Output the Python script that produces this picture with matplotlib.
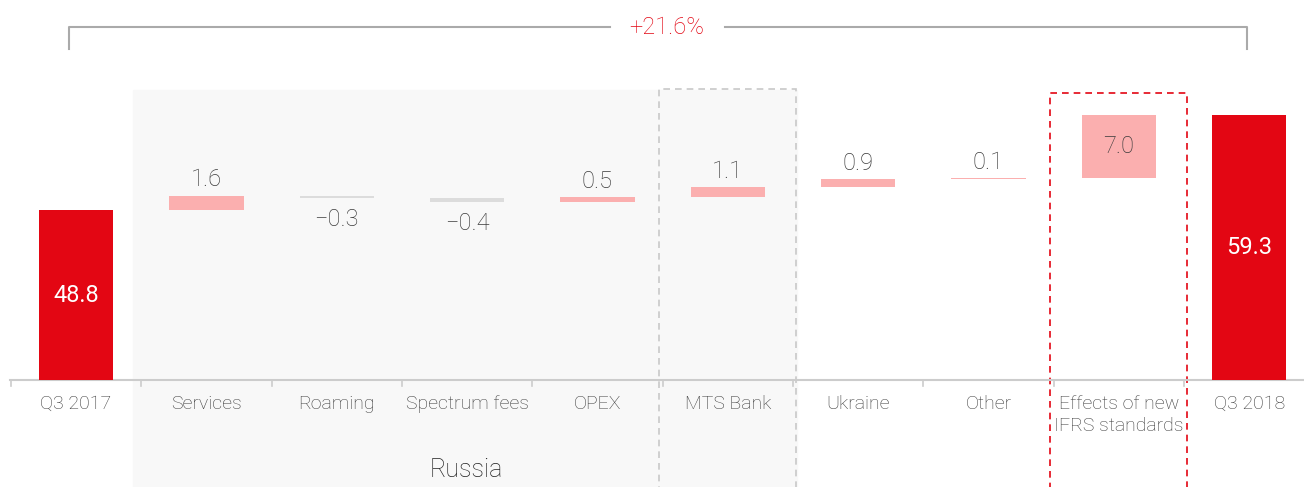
import matplotlib.pyplot as plt
from matplotlib.patches import Rectangle

cats = ['Q3 2017', 'Services', 'Roaming', 'Spectrum fees', 'OPEX', 'MTS Bank',
        'Ukraine', 'Other', 'Effects of new\nIFRS standards', 'Q3 2018']
start = 48.8
deltas = [1.6, -0.3, -0.4, 0.5, 1.1, 0.9, 0.1, 7.0]
end = 59.3
growth = '+21.6%'

RED = '#e30613'
PINK = '#fbafaf'
GREY = '#dcdcdc'
TXT = '#3a3a3a'

plt.rcParams['font.family'] = ['Roboto', 'DejaVu Sans']
plt.rcParams['font.weight'] = 'light'

fig = plt.figure(figsize=(13.04, 4.87), dpi=100)
ax = fig.add_axes([0, 0, 1, 1])
ax.set_xlim(-0.583, 9.42)
ax.set_ylim(18.2, 72.0)
ax.axis('off')
y0 = 30.0  # value axis baseline

# background groups
ax.add_patch(Rectangle((0.437, 0), 5.533 - 0.437, 62.05, color='#f8f8f8', zorder=0))
ax.add_patch(Rectangle((4.474, 0), 5.526 - 4.474, 62.2, fill=False, ec='#c8c8c8',
                       ls=(0, (4, 3)), lw=1.2, zorder=1))
ax.add_patch(Rectangle((7.475, 0), 8.526 - 7.475, 61.7, fill=False, ec=RED,
                       ls=(0, (4, 3)), lw=1.2, zorder=1))

w = 0.57
# totals
ax.bar(0, start - y0, bottom=y0, width=w, color=RED, zorder=3)
ax.bar(9, end - y0, bottom=y0, width=w, color=RED, zorder=3)
ax.text(0, (start + y0) / 2, f'{start:.1f}', color='white', ha='center', va='center',
        fontsize=17, weight='normal')
ax.text(9, (end + y0) / 2, f'{end:.1f}', color='white', ha='center', va='center',
        fontsize=17, weight='normal')

level = start
for i, d in enumerate(deltas, start=1):
    col = PINK if d > 0 else GREY
    ax.bar(i, d, bottom=level, width=w, color=col, zorder=3)
    top = max(level, level + d)
    bot = min(level, level + d)
    lab = f'{d:.1f}'.replace('-', '\u2212')
    if i == 8:
        ax.text(i, level + d / 2, lab, color=TXT, ha='center', va='center', fontsize=17)
    elif d > 0:
        ax.text(i, top + 0.45, lab, color=TXT, ha='center', va='bottom', fontsize=17)
    else:
        ax.text(i, bot - 1.1, lab, color=TXT, ha='center', va='top', fontsize=17)
    level += d

# axis line and ticks
ax.plot([-0.505, 9.42], [y0, y0], color='#cccccc', lw=1.5, zorder=2)
for i in range(10):
    ax.plot([i - 0.5, i - 0.5], [y0, y0 - 0.66], color='#cccccc', lw=1.2, zorder=2)
for i, c in enumerate(cats):
    ax.text(i, y0 - 1.65, c, color=TXT, ha='center', va='top', fontsize=14, linespacing=1.3)
ax.text(2.995, 20.1, 'Russia', color='#222222', ha='center', va='center', fontsize=18)

# growth bracket
by, bt = 69.0, 66.6
ax.plot([-0.054, -0.054, 4.10], [bt, by, by], color='#aaaaaa', lw=1.5)
ax.plot([4.98, 8.98, 8.98], [by, by, bt], color='#aaaaaa', lw=1.5)
ax.text(4.535, by, growth, color=RED, ha='center', va='center', fontsize=17)

fig.savefig('out.png', dpi=100)
